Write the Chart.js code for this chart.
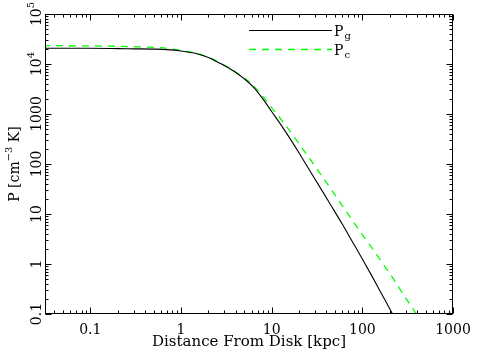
<!DOCTYPE html>
<html><head><meta charset="utf-8">
<script src="https://cdn.jsdelivr.net/npm/chart.js@4"></script>
<style>html,body{margin:0;padding:0;background:#fff;}#wrap{width:486px;height:354px;}</style>
</head><body><div id="wrap"><canvas id="c" width="486" height="354"></canvas></div>
<script>
// Distance from disk [kpc]
const distance = [0.03, 0.05, 0.1, 0.2, 0.3, 0.5, 0.7, 1, 1.5, 2, 2.7, 3.5, 4.2, 5, 6.3, 8, 10, 13, 16, 20, 25, 32, 44, 60, 80, 100, 130, 160, 213, 300, 400, 430];
// Gas pressure P_g
const pGas = [20700, 20700, 20600, 20300, 20100, 19850, 19400, 18200, 16000, 13500, 10300, 7950, 6400, 5050, 3450, 2000, 1120, 565, 318, 168, 86, 41.5, 16, 6.3, 2.55, 1.26, 0.54, 0.27, 0.104, 0.033, null, null];
// Cosmic-ray pressure P_c
const pCR = [23300, 23200, 23000, 22600, 22200, 21500, 20600, 18800, 16200, 13700, 10500, 8100, 6550, 5250, 3650, 2250, 1340, 740, 450, 255, 145, 77, 33.5, 14.7, 6.9, 3.85, 2.0, 1.16, 0.55, 0.21, 0.096, 0.078];

const xMajorTicks = [0.1, 1, 10, 100, 1000];
const xTickLabels = ['0.1', '1', '10', '100', '1000'];
const yMajorTicks = [0.1, 1, 10, 100, 1000, 10000, 100000];
const yTickLabels = [['0.1', ''], ['1', ''], ['10', ''], ['100', ''], ['1000', ''], ['10', '4'], ['10', '5']];
const seriesNames = [['P', 'g'], ['P', 'c']];

const FONT = 'DejaVu Serif';

const toPts = arr => distance.map((d, i) => ({x: d, y: arr[i]}));

const decor = {
  id: 'decor',
  afterDraw(chart) {
    const {ctx, chartArea: a, scales: {x, y}} = chart;
    ctx.save();
    ctx.strokeStyle = '#000';
    ctx.lineWidth = 1;
    const L = Math.round(a.left) + 0.5, R = Math.round(a.right) - 0.5;
    const T = Math.round(a.top) + 0.5, B = Math.round(a.bottom) - 0.5;
    ctx.strokeRect(L, T, R - L, B - T);
    ctx.beginPath();
    for (let e = -2; e <= 3; e++) {
      for (let k = 1; k <= 9; k++) {
        const v = k * Math.pow(10, e);
        if (v < x.min * 0.999 || v > x.max * 1.001) continue;
        const px = Math.round(x.getPixelForValue(v)) + 0.5;
        const len = k === 1 ? 6 : 3;
        ctx.moveTo(px, B); ctx.lineTo(px, B - len);
        ctx.moveTo(px, T); ctx.lineTo(px, T + len);
      }
    }
    for (let e = -1; e <= 5; e++) {
      for (let k = 1; k <= 9; k++) {
        const v = k * Math.pow(10, e);
        if (v < y.min * 0.999 || v > y.max * 1.001) continue;
        const py = Math.round(y.getPixelForValue(v)) + 0.5;
        const len = k === 1 ? 6 : 3;
        ctx.moveTo(L, py); ctx.lineTo(L + len, py);
        ctx.moveTo(R, py); ctx.lineTo(R - len, py);
      }
    }
    ctx.stroke();

    ctx.fillStyle = '#000';
    ctx.textBaseline = 'alphabetic';
    ctx.textAlign = 'left';
    yMajorTicks.forEach((v, i) => {
      const py = y.getPixelForValue(v);
      const [base, sup] = yTickLabels[i];
      ctx.save();
      ctx.translate(41, py);
      ctx.rotate(-Math.PI / 2);
      ctx.font = '14px "' + FONT + '"';
      const wb = ctx.measureText(base).width;
      ctx.font = '10px "' + FONT + '"';
      const ws = sup ? ctx.measureText(sup).width : 0;
      const start = -(wb + ws) / 2;
      ctx.font = '14px "' + FONT + '"';
      ctx.fillText(base, start, 0);
      if (sup) { ctx.font = '10px "' + FONT + '"'; ctx.fillText(sup, start + wb, -7); }
      ctx.restore();
    });

    ctx.save();
    const cy = (a.top + a.bottom) / 2;
    ctx.translate(19, cy);
    ctx.rotate(-Math.PI / 2);
    const parts = [['P [cm', 14, 0], ['\u22123', 10, -7], [' K]', 14, 0]];
    let tw = 0;
    parts.forEach(p => { ctx.font = p[1] + 'px "' + FONT + '"'; p.push(ctx.measureText(p[0]).width); tw += p[3]; });
    let cx = -tw / 2;
    parts.forEach(p => { ctx.font = p[1] + 'px "' + FONT + '"'; ctx.fillText(p[0], cx, p[2]); cx += p[3]; });
    ctx.restore();

    const ds = chart.data.datasets;
    const rows = [30.5, 49.5];
    ds.forEach((d, i) => {
      ctx.save();
      ctx.strokeStyle = d.borderColor;
      ctx.lineWidth = d.borderWidth;
      ctx.setLineDash(d.borderDash || []);
      ctx.beginPath();
      ctx.moveTo(249, rows[i]); ctx.lineTo(332, rows[i]);
      ctx.stroke();
      ctx.restore();
      ctx.font = '14px "' + FONT + '"';
      ctx.fillText(seriesNames[i][0], 334, rows[i] + 5);
      const w = ctx.measureText(seriesNames[i][0]).width;
      ctx.font = '10px "' + FONT + '"';
      ctx.fillText(seriesNames[i][1], 334 + w + 1, rows[i] + 8);
    });
    ctx.restore();
  }
};

new Chart(document.getElementById('c'), {
  type: 'scatter',
  data: {
    datasets: [
      {label: 'Pg', data: toPts(pGas), showLine: true, borderColor: '#000000', borderWidth: 1.1, pointRadius: 0, cubicInterpolationMode: 'monotone', spanGaps: false},
      {label: 'Pc', data: toPts(pCR), showLine: true, borderColor: '#00ff00', borderWidth: 1.3, borderDash: [7, 6], pointRadius: 0, cubicInterpolationMode: 'monotone'}
    ]
  },
  options: {
    responsive: false,
    animation: false,
    devicePixelRatio: 1,
    layout: {padding: {left: 0, right: 33, top: 14, bottom: 0}},
    plugins: {legend: {display: false}, tooltip: {enabled: false}},
    scales: {
      x: {
        type: 'logarithmic',
        min: Math.pow(10, -1.5),
        max: 1000,
        afterBuildTicks: s => { s.ticks = xMajorTicks.map(v => ({value: v})); },
        afterFit: s => { s.height = 40; },
        grid: {display: false, drawTicks: false},
        border: {display: false},
        ticks: {
          autoSkip: false, maxRotation: 0, padding: 8, color: '#000',
          font: {family: FONT, size: 14},
          callback: (v, i) => xTickLabels[i]
        },
        title: {display: true, text: 'Distance From Disk [kpc]', color: '#000', font: {family: FONT, size: 15}, padding: {top: 0, bottom: 3}}
      },
      y: {
        type: 'logarithmic',
        min: 0.1,
        max: 100000,
        afterBuildTicks: s => { s.ticks = yMajorTicks.map(v => ({value: v})); },
        afterFit: s => { s.width = 45; },
        grid: {display: false, drawTicks: false},
        border: {display: false},
        ticks: {display: false}
      }
    }
  },
  plugins: [decor]
});
</script>
</body></html>
